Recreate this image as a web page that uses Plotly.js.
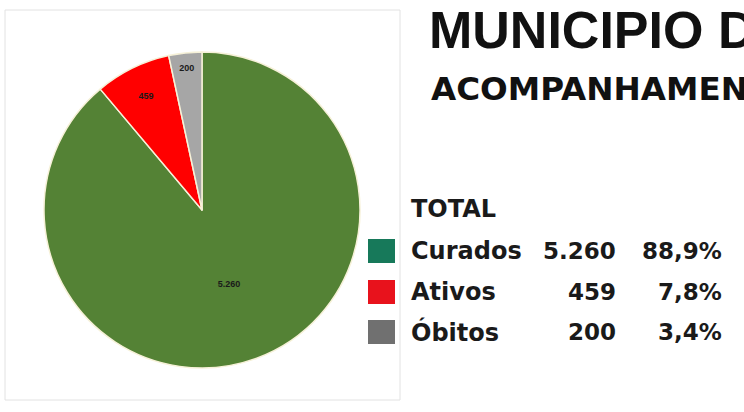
<!DOCTYPE html>
<html>
<head>
<meta charset="utf-8">
<script src="https://cdn.plot.ly/plotly-3.0.1.min.js"></script>
<style>html,body{margin:0;padding:0;background:#fff;}#chart{width:744px;height:412px;}</style>
</head>
<body>
<div id="chart"></div>
<script>
// ---- data ----
const categories = ['Curados', 'Ativos', 'Óbitos'];
const values = [5260, 459, 200];
const titleLine1 = 'MUNICIPIO DE';
const titleLine2 = 'ACOMPANHAMENTO';
const totalLabel = 'TOTAL';

// ---- styles ----
const pieColors = ['#548235', '#FF0000', '#A6A6A6'];
const legendColors = ['#17795A', '#E8121C', '#707070'];

const W = 744, H = 412;
const px = v => v / W;
const py = v => 1 - v / H;

const total = values.reduce((a, b) => a + b, 0);
const fmtInt = n => n.toString().replace(/\B(?=(\d{3})+(?!\d))/g, '.');
const fmtPct = n => (n / total * 100).toFixed(1).replace('.', ',') + '%';

const trace = {
  type: 'pie',
  labels: categories,
  values: values,
  sort: false,
  direction: 'clockwise',
  rotation: 0,
  marker: { colors: pieColors, line: { color: '#F6F1D8', width: 1.5 } },
  texttemplate: '%{value:,}',
  textposition: 'inside',
  insidetextorientation: 'horizontal',
  textfont: { family: 'Liberation Sans, Arial, sans-serif', size: 9, color: '#1a1a1a', weight: 'bold' },
  domain: { x: [px(43), px(361)], y: [py(368), py(52)] },
  showlegend: false,
  hoverinfo: 'label+value+percent'
};

const annotations = [];
const shapes = [];

// frame around pie
shapes.push({ type: 'rect', xref: 'paper', yref: 'paper', x0: px(5), x1: px(400), y0: py(400), y1: py(10),
  line: { color: '#E2E2E2', width: 1 }, fillcolor: 'rgba(0,0,0,0)' });

annotations.push({ xref: 'paper', yref: 'paper', x: px(427), y: py(30), xanchor: 'left', yanchor: 'middle',
  text: titleLine1, showarrow: false,
  font: { family: 'Liberation Sans, Arial, sans-serif', size: 52, color: '#111', weight: 'bold' } });
annotations.push({ xref: 'paper', yref: 'paper', x: px(429), y: py(89), xanchor: 'left', yanchor: 'middle',
  text: titleLine2, showarrow: false,
  font: { family: 'DejaVu Sans, sans-serif', size: 32.6, color: '#111', weight: 'bold' } });

const wordFont = { family: 'DejaVu Sans, sans-serif', size: 24, color: '#1a1a1a', weight: 'bold' };
const numFont = { family: 'DejaVu Sans, sans-serif', size: 23, color: '#1a1a1a', weight: 'bold' };
annotations.push({ xref: 'paper', yref: 'paper', x: px(409), y: py(209), xanchor: 'left', yanchor: 'middle',
  text: totalLabel, showarrow: false, font: wordFont });

const rowY = [251, 292, 332];
categories.forEach((c, i) => {
  const y = rowY[i];
  shapes.push({ type: 'rect', xref: 'paper', yref: 'paper', x0: px(368), x1: px(395), y0: py(y + 12), y1: py(y - 12),
    line: { width: 0 }, fillcolor: legendColors[i] });
  annotations.push({ xref: 'paper', yref: 'paper', x: px(409), y: py(y), xanchor: 'left', yanchor: 'middle',
    text: c, showarrow: false, font: wordFont });
  annotations.push({ xref: 'paper', yref: 'paper', x: px(618), y: py(y), xanchor: 'right', yanchor: 'middle',
    text: fmtInt(values[i]), showarrow: false, font: numFont });
  annotations.push({ xref: 'paper', yref: 'paper', x: px(724), y: py(y), xanchor: 'right', yanchor: 'middle',
    text: fmtPct(values[i]), showarrow: false, font: numFont });
});

const layout = {
  width: W, height: H,
  margin: { l: 0, r: 0, t: 0, b: 0 },
  paper_bgcolor: '#ffffff',
  separators: ',.',
  showlegend: false,
  annotations: annotations,
  shapes: shapes
};

Plotly.newPlot('chart', [trace], layout, { displayModeBar: false, staticPlot: true });
</script>
</body>
</html>
